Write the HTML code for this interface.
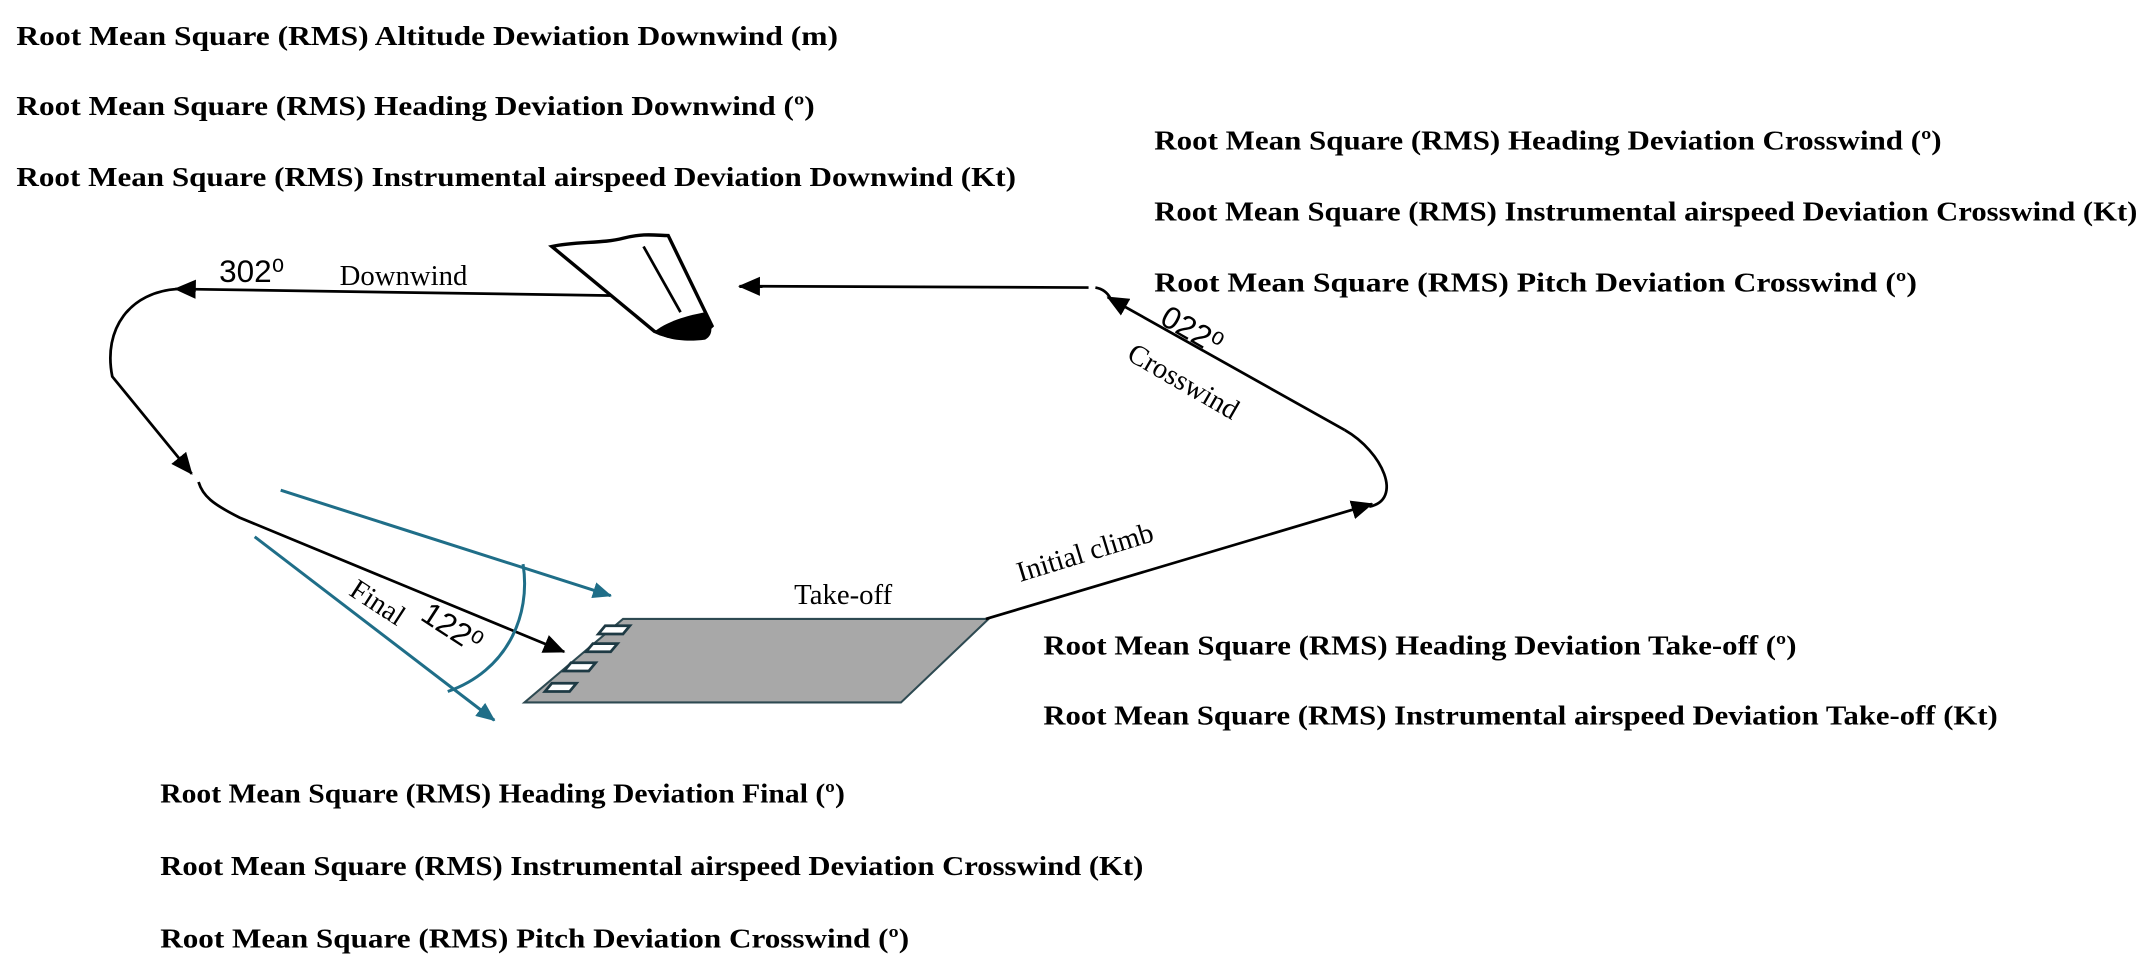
<!DOCTYPE html>
<html><head><meta charset="utf-8"><style>
html,body{margin:0;padding:0;background:#fff;}
svg{display:block;}
.t{font-family:"Liberation Serif",serif;font-weight:bold;font-size:20px;fill:#000;}
.l{font-family:"Liberation Serif",serif;font-size:21px;fill:#000;}
.s{font-family:"Liberation Sans",sans-serif;font-size:23px;fill:#000;}
</style></head><body>
<svg width="2147" height="974" viewBox="0 0 1568 711.3" xmlns="http://www.w3.org/2000/svg">
<defs>
<marker id="ab" markerWidth="10" markerHeight="10" refX="9" refY="5" orient="auto" markerUnits="userSpaceOnUse"><path d="M0,0 L14,5 L0,10 z" fill="#000" transform="scale(0.7,1)"/></marker>
<marker id="at" markerWidth="14" markerHeight="12" refX="13" refY="6" orient="auto" markerUnits="userSpaceOnUse"><path d="M0,0 L14,6 L0,12 z" fill="#1f6e88"/></marker>
<marker id="ak" markerWidth="16" markerHeight="14" refX="15" refY="7" orient="auto" markerUnits="userSpaceOnUse"><path d="M0,0 L16,7 L0,14 z" fill="#000"/></marker>
</defs>

<!-- texts -->
<text class="t" x="12" y="33" textLength="600" lengthAdjust="spacingAndGlyphs">Root Mean Square (RMS) Altitude Dewiation Downwind (m)</text>
<text class="t" x="12" y="84" textLength="583" lengthAdjust="spacingAndGlyphs">Root Mean Square (RMS) Heading Deviation Downwind (º)</text>
<text class="t" x="12" y="136" textLength="730" lengthAdjust="spacingAndGlyphs">Root Mean Square (RMS) Instrumental airspeed Deviation Downwind (Kt)</text>

<text class="t" x="843" y="109" textLength="575" lengthAdjust="spacingAndGlyphs">Root Mean Square (RMS) Heading Deviation Crosswind (º)</text>
<text class="t" x="843" y="161" textLength="718" lengthAdjust="spacingAndGlyphs">Root Mean Square (RMS) Instrumental airspeed Deviation Crosswind (Kt)</text>
<text class="t" x="843" y="213" textLength="557" lengthAdjust="spacingAndGlyphs">Root Mean Square (RMS) Pitch Deviation Crosswind (º)</text>

<text class="t" x="762" y="478" textLength="550" lengthAdjust="spacingAndGlyphs">Root Mean Square (RMS) Heading Deviation Take-off (º)</text>
<text class="t" x="762" y="529" textLength="697" lengthAdjust="spacingAndGlyphs">Root Mean Square (RMS) Instrumental airspeed Deviation Take-off (Kt)</text>

<text class="t" x="117" y="586" textLength="500" lengthAdjust="spacingAndGlyphs">Root Mean Square (RMS) Heading Deviation Final (º)</text>
<text class="t" x="117" y="639" textLength="718" lengthAdjust="spacingAndGlyphs">Root Mean Square (RMS) Instrumental airspeed Deviation Crosswind (Kt)</text>
<text class="t" x="117" y="692" textLength="547" lengthAdjust="spacingAndGlyphs">Root Mean Square (RMS) Pitch Deviation Crosswind (º)</text>

<!-- runway -->
<polygon points="455,452 722,452 658,513 383,513" fill="#a8a8a8" stroke="#2e4a52" stroke-width="1.5"/>
<g fill="#fff" stroke="#1e3a44" stroke-width="2">
<polygon points="442,457 460,457 455,463 437,463"/>
<polygon points="433,470 451,470 446,476 428,476"/>
<polygon points="417,484 435,484 430,490 412,490"/>
<polygon points="403,499 421,499 416,505 398,505"/>
</g>

<!-- pattern path -->
<g fill="none" stroke="#000" stroke-width="2">
<path d="M455,216 L128,211" marker-end="url(#ak)"/>
<path d="M130,211 C95,213 75,240 82,275 L140,346" marker-end="url(#ak)"/>
<path d="M145,352 C148,362 155,368 175,378 L412,476" marker-end="url(#ak)"/>
<path d="M795,210 L540,209" marker-end="url(#ak)"/>
<path d="M982,314 L809,217" marker-end="url(#ak)"/>
<path d="M800,210 C806,211 809,214 811,218"/>
<path d="M982,314 C1010,330 1025,365 1000,370"/>
<path d="M720,452 L1002,368" marker-end="url(#ak)"/>
</g>

<!-- wing -->
<path d="M403,180 C420,176 440,178 455,174 C470,170 480,172 488,172 L520,238 C510,248 490,248 478,242 Z" fill="#fff" stroke="#000" stroke-width="2.5"/>
<path d="M478,242 C490,233 505,230 515,228 C520,236 522,244 515,248 C500,250 485,248 478,242 Z" fill="#000"/>
<line x1="470" y1="180" x2="497" y2="228" stroke="#000" stroke-width="2"/>

<!-- teal lines -->
<g fill="none" stroke="#1f6e88" stroke-width="2.2">
<path d="M205,358 L446,435" marker-end="url(#at)"/>
<path d="M186,392 L361,526" marker-end="url(#at)"/>
<path d="M382,412 C388,450 370,490 327,505"/>
</g>

<!-- labels -->
<text class="s" x="160" y="206">302⁰</text>
<text class="l" x="248" y="208">Downwind</text>
<text class="l" x="580" y="441">Take-off</text>
<text class="l" transform="translate(745,425) rotate(-17)">Initial climb</text>
<text class="s" transform="translate(846,236) rotate(30)">022⁰</text>
<text class="l" transform="translate(822,262) rotate(30)">Crosswind</text>
<text class="l" transform="translate(254,434) rotate(33)">Final</text>
<text class="s" transform="translate(306,452) rotate(33)">122⁰</text>
</svg>
</body></html>
